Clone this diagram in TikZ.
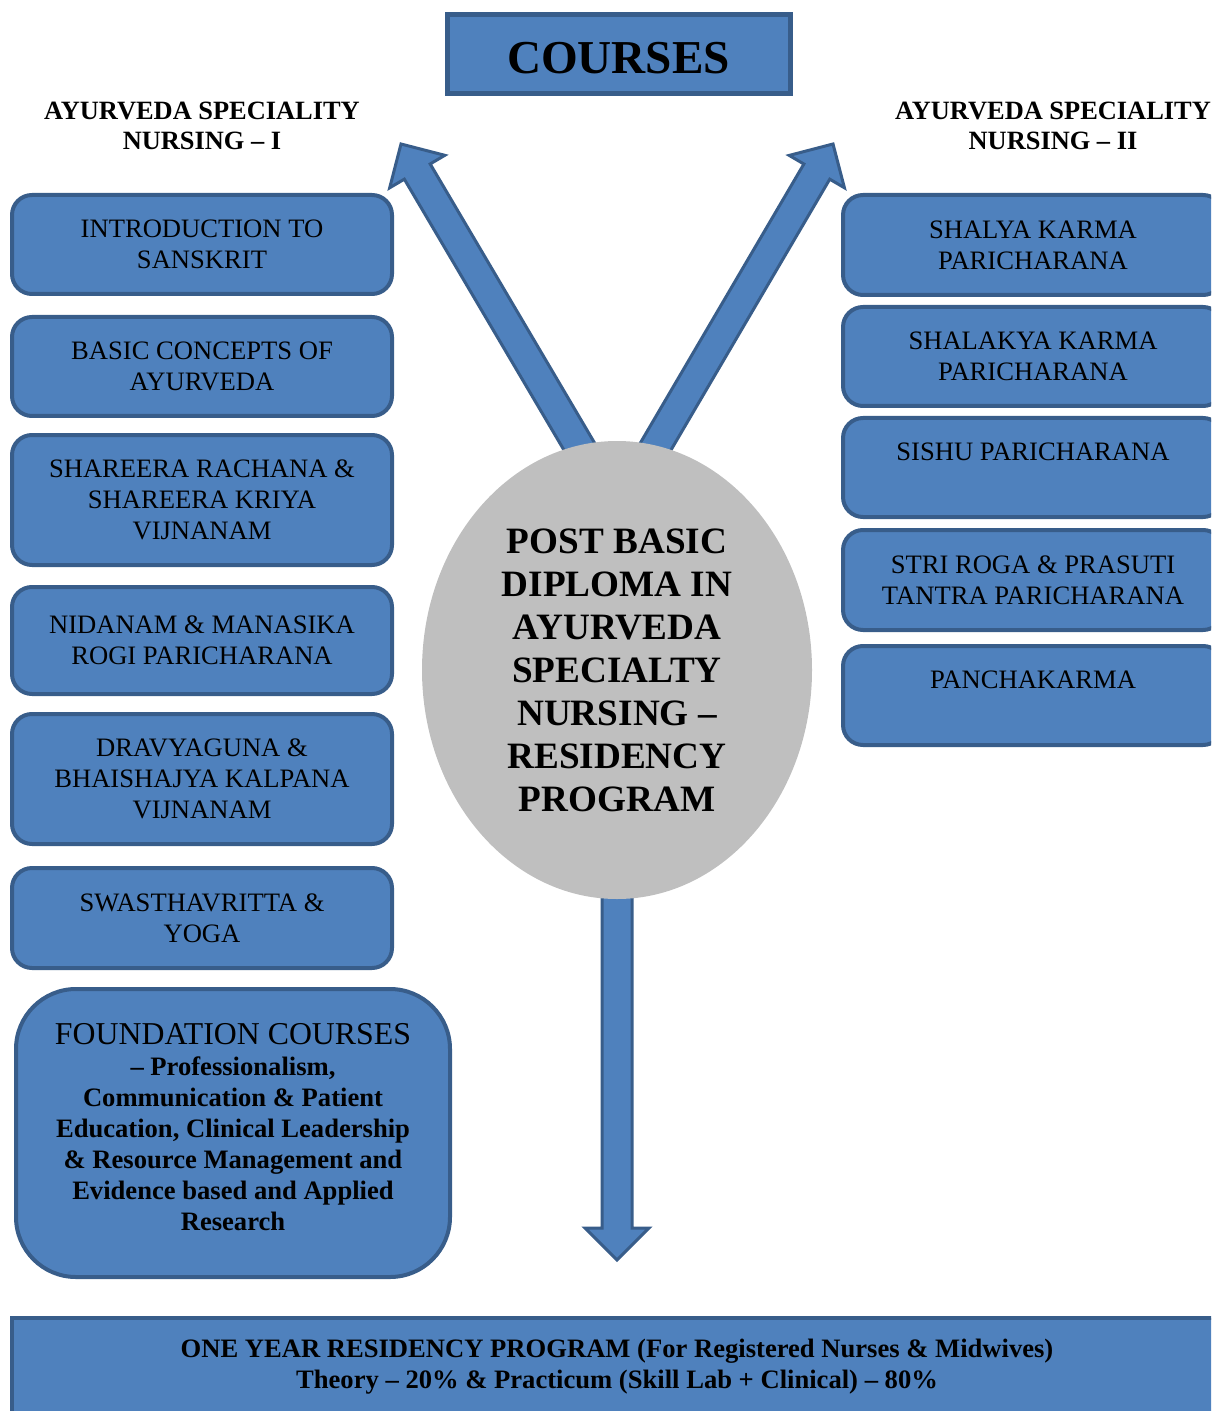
\documentclass[tikz,border=0pt]{standalone}
\usepackage{fontspec}
\setmainfont{Liberation Serif}
\usetikzlibrary{shapes.geometric,calc,backgrounds}
\definecolor{bf}{HTML}{4F81BD}
\definecolor{bd}{HTML}{385D8A}
\definecolor{eg}{HTML}{BFBFBF}
% block arrow: #1 start, #2 tip, #3 id
\newcommand\BArrow[3]{%
  \coordinate (#3hb) at ($(#2)!16pt!(#1)$);
  \draw[barrow] ($(#1)!7.5pt!90:(#2)$) -- ($(#3hb)!7.5pt!90:(#2)$)
     -- ($(#3hb)!16pt!90:(#2)$) -- (#2) -- ($(#3hb)!16pt!-90:(#2)$)
     -- ($(#3hb)!7.5pt!-90:(#2)$) -- ($(#1)!7.5pt!-90:(#2)$) -- cycle;
}
\begin{document}
\begin{tikzpicture}[x=0.5pt,y=-0.5pt,
  barrow/.style={fill=bf,draw=bd,line width=1.5pt,line join=miter},
  cbox/.style={draw=bd,fill=bf,line width=2pt,rounded corners=10pt,
    minimum width=190pt,align=center,inner sep=0pt,
    font=\fontsize{13.3}{15.5}\selectfont},
  head/.style={align=center,inner sep=0pt,font=\bfseries\fontsize{13.2}{15}\selectfont},
  titlebox/.style={draw=bd,fill=bf,line width=2.5pt,minimum width=171.5pt,
    minimum height=39.5pt,inner sep=0pt,text height=18.6pt,text depth=0pt,
    font=\bfseries\fontsize{23.6}{26}\selectfont},
  ellbox/.style={ellipse,fill=eg,minimum width=195pt,minimum height=229pt,
    inner sep=0pt,align=center,font=\bfseries\fontsize{18.6}{21.5}\selectfont},
  foundbox/.style={draw=bd,fill=bf,line width=2pt,rounded corners=30pt,
    minimum width=217pt,minimum height=144pt,align=center,inner sep=0pt,
    text depth=6pt,font=\bfseries\fontsize{13.3}{15.5}\selectfont},
  botbox/.style={draw=bd,fill=bf,line width=2pt,minimum width=605pt,
    minimum height=60pt,inner sep=0pt,anchor=north},
  bottext/.style={align=center,inner sep=0pt,font=\bfseries\fontsize{13.3}{15.5}\selectfont}
]
\useasboundingbox (0,0) rectangle (1211,1411);
\clip (0,0) rectangle (1211,1411);

% title
\node[titlebox] (courses) at (618.5,54.5) {COURSES};

% headings
\node[head] (h1) at (202,125.5) {AYURVEDA SPECIALITY\\NURSING – I};
\node[head] (h2) at (1053,125.5) {AYURVEDA SPECIALITY\\NURSING – II};

% central ellipse
\node[ellbox] (ell) at (617,670) {POST BASIC\\DIPLOMA IN\\AYURVEDA\\SPECIALTY\\NURSING –\\RESIDENCY\\PROGRAM};

% arrows behind ellipse
\coordinate (ls) at ($(ell.center)+(-18,-190)$);
\coordinate (rs) at ($(ell.center)+(19,-190)$);
\coordinate (ds) at ($(ell.center)+(0,150)$);
\coordinate (lt) at (401,144);
\coordinate (rt) at (833,144);
\coordinate (dt) at (617,1260);
\begin{scope}[on background layer]
  \BArrow{ls}{lt}{la}
  \BArrow{rs}{rt}{ra}
  \BArrow{ds}{dt}{da}
\end{scope}

% left boxes
\node[cbox,minimum height=49.5pt] (l1) at (202,244.5) {INTRODUCTION TO\\SANSKRIT};
\node[cbox,minimum height=49.5pt] (l2) at (202,366.5) {BASIC CONCEPTS OF\\AYURVEDA};
\node[cbox,minimum height=65pt] (l3) at (202,500) {SHAREERA RACHANA \&\\SHAREERA KRIYA\\VIJNANAM};
\node[cbox,minimum height=53.5pt] (l4) at (202,640.5) {NIDANAM \& MANASIKA\\ROGI PARICHARANA};
\node[cbox,minimum height=65pt] (l5) at (202,779) {DRAVYAGUNA \&\\BHAISHAJYA KALPANA\\VIJNANAM};
\node[cbox,minimum height=50pt] (l6) at (202,918) {SWASTHAVRITTA \&\\YOGA};

% foundation
\node[foundbox] (fc) at (233,1133) {{\mdseries\fontsize{15.9}{17}\selectfont FOUNDATION COURSES}\\– Professionalism,\\Communication \& Patient\\Education, Clinical Leadership\\\& Resource Management and\\Evidence based and Applied\\Research};

% right boxes
\node[cbox,minimum height=50pt] (r1) at (1033,245) {SHALYA KARMA\\PARICHARANA};
\node[cbox,minimum height=49.5pt] (r2) at (1033,356.5) {SHALAKYA KARMA\\PARICHARANA};
\node[cbox,minimum height=49.5pt] (r3) at (1033,467.5) {SISHU PARICHARANA\\\phantom{P}};
\node[cbox,minimum height=50pt] (r4) at (1033,580) {STRI ROGA \& PRASUTI\\TANTRA PARICHARANA};
\node[cbox,minimum height=49.5pt] (r5) at (1033,695.5) {PANCHAKARMA\\\phantom{P}};

% bottom
\node[botbox] (bot) at (617,1316) {};
\node[bottext] (bottxt) at (617,1366.5) {ONE YEAR RESIDENCY PROGRAM (For Registered Nurses \& Midwives)\\Theory – 20\% \& Practicum (Skill Lab + Clinical) – 80\%};
\end{tikzpicture}
\end{document}
